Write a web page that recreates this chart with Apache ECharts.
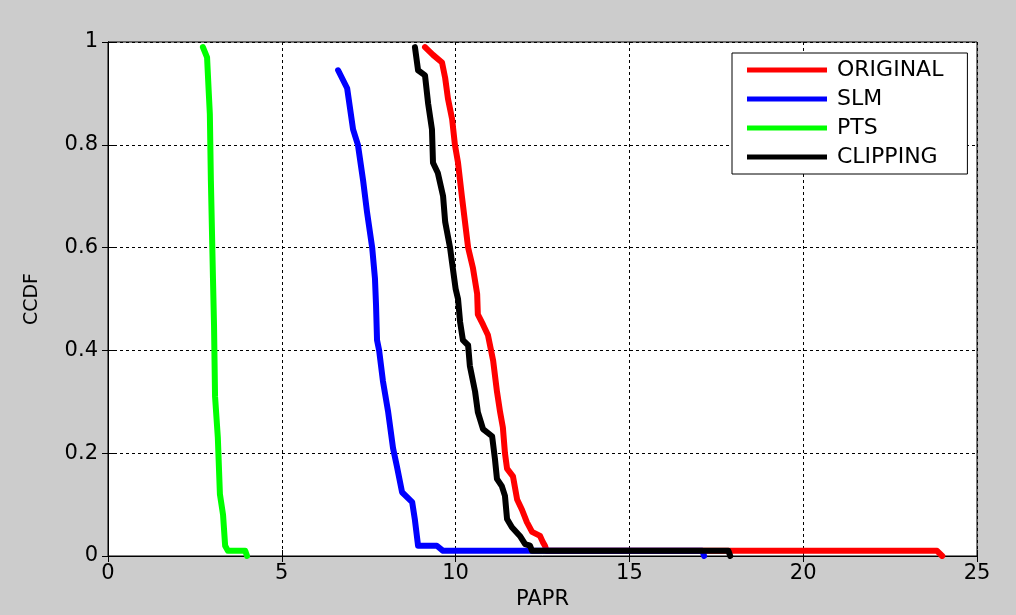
<!DOCTYPE html>
<html>
<head>
<meta charset="utf-8">
<script src="https://cdn.jsdelivr.net/npm/echarts@6/dist/echarts.min.js"></script>
<style>
html,body{margin:0;padding:0;background:#fff;}
#chart{width:1016px;height:615px;}
</style>
</head>
<body>
<div id="chart"></div>
<script>
// ---- data (x = PAPR, y = CCDF) ----
var seriesNames = ['ORIGINAL', 'SLM', 'PTS', 'CLIPPING'];
var xTicks = [0, 5, 10, 15, 20, 25];
var yTicks = [0, 0.2, 0.4, 0.6, 0.8, 1];

var original = [[9.12,0.99],[9.35,0.975],[9.61,0.96],[9.70,0.93],[9.78,0.89],[9.90,0.85],[9.98,0.80],[10.07,0.765],[10.18,0.70],[10.27,0.65],[10.36,0.60],[10.50,0.56],[10.62,0.51],[10.64,0.47],[10.79,0.45],[10.93,0.43],[11.08,0.38],[11.19,0.32],[11.28,0.28],[11.36,0.25],[11.42,0.20],[11.48,0.17],[11.65,0.155],[11.77,0.11],[11.91,0.09],[12.05,0.066],[12.20,0.047],[12.43,0.039],[12.51,0.027],[12.57,0.02],[12.62,0.01],[23.85,0.01],[24.0,0]];

var slm = [[6.62,0.945],[6.88,0.91],[7.05,0.83],[7.19,0.80],[7.34,0.73],[7.45,0.67],[7.60,0.60],[7.68,0.54],[7.71,0.49],[7.74,0.42],[7.80,0.40],[7.91,0.34],[8.06,0.28],[8.20,0.21],[8.31,0.175],[8.46,0.124],[8.75,0.105],[8.83,0.07],[8.92,0.02],[9.46,0.02],[9.64,0.01],[17.1,0.01],[17.15,0]];

var pts = [[2.73,0.99],[2.85,0.97],[2.90,0.90],[2.93,0.86],[2.96,0.73],[3.02,0.54],[3.05,0.45],[3.08,0.31],[3.16,0.23],[3.22,0.12],[3.31,0.08],[3.37,0.02],[3.45,0.01],[3.95,0.01],[4.0,0]];

var clipping = [[8.83,0.99],[8.92,0.945],[9.12,0.935],[9.21,0.88],[9.32,0.83],[9.35,0.765],[9.49,0.745],[9.64,0.70],[9.70,0.65],[9.84,0.60],[9.90,0.57],[10.0,0.52],[10.07,0.50],[10.13,0.455],[10.21,0.42],[10.36,0.41],[10.41,0.37],[10.56,0.32],[10.64,0.28],[10.79,0.247],[11.05,0.233],[11.13,0.19],[11.19,0.15],[11.33,0.136],[11.42,0.117],[11.48,0.072],[11.62,0.056],[11.85,0.039],[12.0,0.023],[12.14,0.02],[12.2,0.01],[17.85,0.01],[17.9,0]];

var seriesData = [original, slm, pts, clipping];
var seriesColors = ['#ff0000', '#0000ff', '#00ff00', '#000000'];

// ---- chart ----
var FONT = 'DejaVu Sans';
var chart = echarts.init(document.getElementById('chart'), null, {renderer: 'canvas'});

var xMin = xTicks[0], xMax = xTicks[xTicks.length - 1], xStep = xTicks[1] - xTicks[0];
var yMin = yTicks[0], yMax = yTicks[yTicks.length - 1], yStep = yTicks[1] - yTicks[0];

function baseAxis(extra) {
  var a = {
    type: 'value',
    axisLine: {show: true, lineStyle: {color: '#000', width: 1}},
    axisTick: {show: true, inside: true, length: 6, lineStyle: {color: '#000'}},
    axisLabel: {color: '#000', fontFamily: FONT, fontSize: 21},
    splitLine: {show: false}
  };
  for (var k in extra) a[k] = extra[k];
  return a;
}

var option = {
  backgroundColor: '#cccccc',
  animation: false,
  grid: {
    left: 108, top: 42, width: 869, height: 515,
    show: true, backgroundColor: '#ffffff', borderColor: '#000', borderWidth: 1
  },
  legend: {
    data: seriesNames,
    orient: 'vertical',
    left: 732, top: 53,
    padding: [6, 24, 6, 15],
    itemGap: 7,
    itemWidth: 80,
    itemHeight: 5,
    icon: 'rect',
    backgroundColor: '#ffffff',
    borderColor: '#000',
    borderWidth: 1,
    borderRadius: 0,
    textStyle: {color: '#000', fontFamily: FONT, fontSize: 22, padding: [0, 0, 0, 5]}
  },
  xAxis: [
    baseAxis({
      position: 'bottom', min: xMin, max: xMax, interval: xStep,
      name: 'PAPR', nameLocation: 'middle', nameGap: 33,
      nameTextStyle: {color: '#000', fontFamily: FONT, fontSize: 21},
      axisLabel: {color: '#000', fontFamily: FONT, fontSize: 21, margin: 7},
      splitLine: {show: true, lineStyle: {color: '#000', width: 1, type: [3, 3]}}
    }),
    baseAxis({
      position: 'top', min: xMin, max: xMax, interval: xStep,
      axisLabel: {show: false}
    })
  ],
  yAxis: [
    baseAxis({
      position: 'left', min: yMin, max: yMax, interval: yStep,
      name: 'CCDF', nameLocation: 'middle', nameGap: 66,
      nameTextStyle: {color: '#000', fontFamily: FONT, fontSize: 19},
      axisLabel: {color: '#000', fontFamily: FONT, fontSize: 21, margin: 10},
      splitLine: {show: true, lineStyle: {color: '#000', width: 1, type: [3, 3]}}
    }),
    baseAxis({
      position: 'right', min: yMin, max: yMax, interval: yStep,
      axisLabel: {show: false}
    })
  ],
  series: seriesNames.map(function (name, i) {
    return {
      name: name,
      type: 'line',
      xAxisIndex: 0,
      yAxisIndex: 0,
      data: seriesData[i],
      showSymbol: false,
      symbol: 'none',
      smooth: false,
      color: seriesColors[i],
      lineStyle: {color: seriesColors[i], width: 6, join: 'round', cap: 'round'},
      z: 3 + i
    };
  })
};

chart.setOption(option);
</script>
</body>
</html>
